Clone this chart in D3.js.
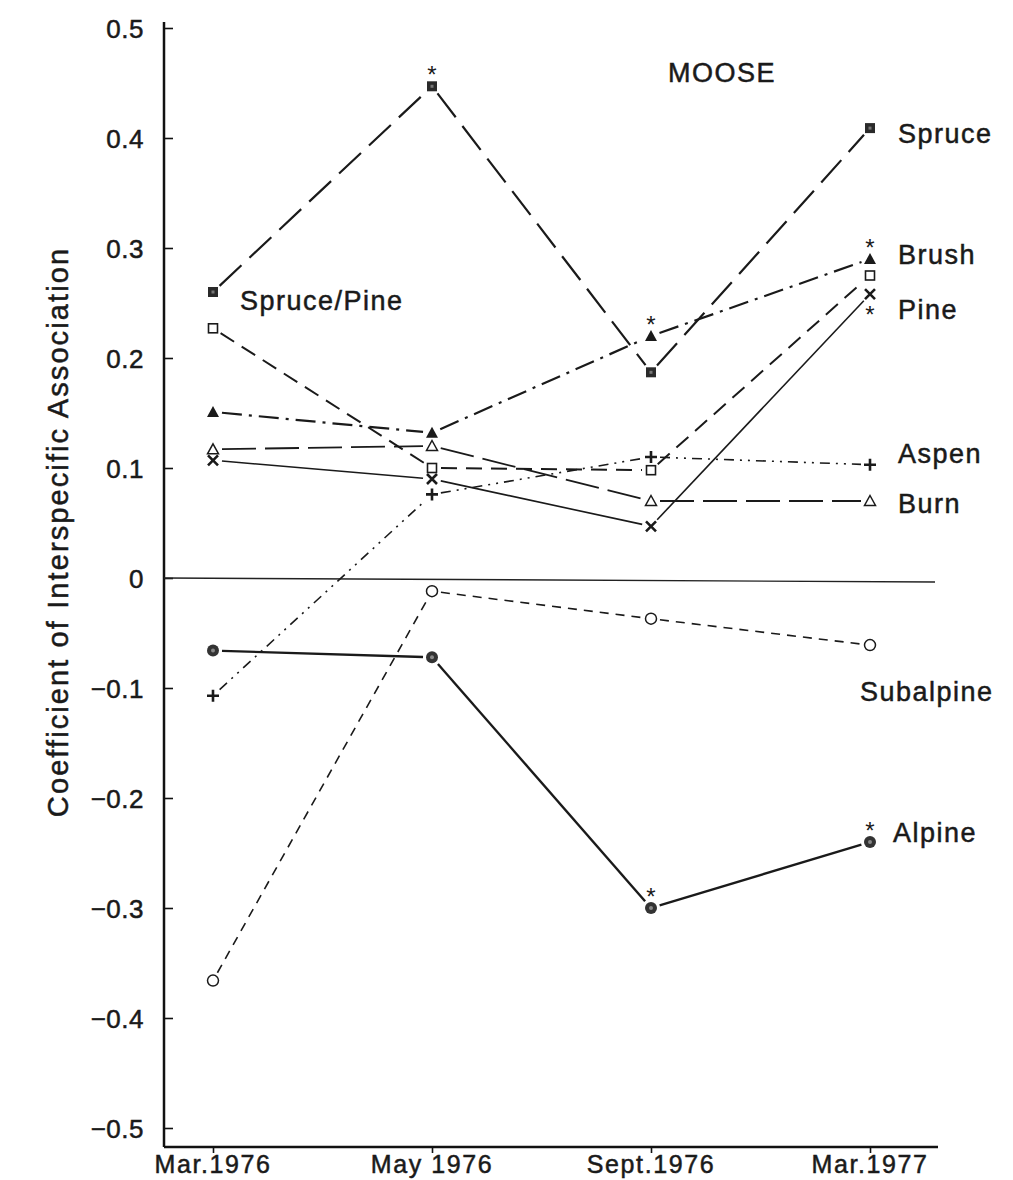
<!DOCTYPE html>
<html><head><meta charset="utf-8">
<script src="https://cdn.jsdelivr.net/npm/d3@7"></script>
<style>body{margin:0;background:#fff}svg{display:block}text{font-family:"Liberation Sans",Arial,sans-serif;fill:#1a1a1a;stroke:#1a1a1a;stroke-width:0.5px}</style>
</head><body><svg id="c" width="1013" height="1180"></svg>
<script>
const periods = ["Mar.1976","May 1976","Sept.1976","Mar.1977"];
const yTicks = [0.5,0.4,0.3,0.2,0.1,0,-0.1,-0.2,-0.3,-0.4,-0.5];
const spruce    = [0.26, 0.447, 0.187, 0.409];
const brush     = [0.151, 0.132, 0.22, 0.29];
const sprucePine= [0.227, 0.10, 0.098, 0.275];
const pine      = [0.107, 0.09, 0.047, 0.258];
const aspen     = [-0.107, 0.076, 0.11, 0.103];
const burn      = [0.117, 0.12, 0.07, 0.07];
const subalpine = [-0.366, -0.012, -0.037, -0.061];
const alpine    = [-0.066, -0.072, -0.30, -0.24];
const seriesNames = ["Spruce","Brush","Spruce/Pine","Pine","Aspen","Burn","Subalpine","Alpine"];
const sigSpruce = [false,true,false,false];
const sigBrush  = [false,false,true,true];
const sigPine   = [false,false,false,true];
const sigAlpine = [false,false,true,true];
const none = [false,false,false,false];

const series = [
  {name:"Spruce", v:spruce, sig:sigSpruce, mark:"fsq", dash:"30,11", w:2.2, sigPos:"above"},
  {name:"Brush", v:brush, sig:sigBrush, mark:"ftri", dash:"20,7,3,7", w:2.2, sigPos:"above"},
  {name:"Spruce/Pine", v:sprucePine, sig:none, mark:"osq", dash:"16,9", w:2},
  {name:"Pine", v:pine, sig:sigPine, mark:"x", dash:null, w:1.6, sigPos:"below"},
  {name:"Aspen", v:aspen, sig:none, mark:"plus", dash:"10,6,2,6,2,6", w:1.6},
  {name:"Burn", v:burn, sig:none, mark:"otri", dash:"34,9", w:1.8},
  {name:"Subalpine", v:subalpine, sig:none, mark:"ocirc", dash:"9,7", w:1.6},
  {name:"Alpine", v:alpine, sig:sigAlpine, mark:"fcirc", dash:null, w:2.4, sigPos:"above"}
];

const svg = d3.select("#c");
const x = d3.scalePoint().domain(periods).range([213, 870]);
const y = d3.scaleLinear().domain([-0.5, 0.5]).range([1128, 28]);
const axisY = 1147;

// y axis
const yAxis = d3.axisRight(y).tickValues(yTicks).tickSize(9).tickFormat("");
const ga = svg.append("g").attr("transform","translate(164,0)").call(yAxis);
ga.select(".domain").attr("d",`M0,22V${axisY}`).attr("stroke","#111").attr("stroke-width",2.5);
ga.selectAll(".tick line").attr("stroke","#111").attr("stroke-width",1.6);
svg.selectAll(".ylab").data(yTicks).enter().append("text")
  .attr("x",144).attr("y",d=>y(d)+10).attr("text-anchor","end")
  .style("font-size","26px").style("letter-spacing","0.5px")
  .text(d=> d===0 ? "0" : (d<0 ? "\u2212"+Math.abs(d).toFixed(1) : d.toFixed(1)));

// x axis
const xAxis = d3.axisBottom(x).tickSize(6).tickFormat("");
const gx = svg.append("g").attr("transform",`translate(0,${axisY})`).call(xAxis);
gx.select(".domain").attr("d","M164,0H938").attr("stroke","#111").attr("stroke-width",2.5);
gx.selectAll(".tick line").attr("stroke","#111").attr("stroke-width",1.6);
svg.selectAll(".xlab").data(periods).enter().append("text")
  .attr("x",d=>x(d)).attr("y",1173).attr("text-anchor","middle")
  .style("font-size","25px").style("letter-spacing","1.6px").text(d=>d);

svg.append("text").attr("transform","translate(68,532) rotate(-90)")
  .attr("text-anchor","middle").style("font-size","29px").style("letter-spacing","2.1px")
  .text("Coefficient of Interspecific Association");

// zero line
svg.append("line").attr("x1",164).attr("x2",935).attr("y1",y(0)).attr("y2",y(0)+4)
  .attr("stroke","#222").attr("stroke-width",1.4);

svg.append("text").attr("x",668).attr("y",82).style("font-size","27px").style("letter-spacing","1.5px").text("MOOSE");

// lines with gaps near markers
const gap = 9;
series.forEach(s=>{
  for(let i=0;i<3;i++){
    const x1=x(periods[i]), y1=y(s.v[i]), x2=x(periods[i+1]), y2=y(s.v[i+1]);
    const dx=x2-x1, dy=y2-y1, L=Math.hypot(dx,dy);
    svg.append("line")
      .attr("x1",x1+dx/L*gap).attr("y1",y1+dy/L*gap)
      .attr("x2",x2-dx/L*gap).attr("y2",y2-dy/L*gap)
      .attr("stroke","#1a1a1a").attr("stroke-width",s.w)
      .attr("stroke-dasharray",s.dash).attr("stroke-linecap","butt");
  }
});

// markers
function marker(g, type, cx, cy){
  const k="#1a1a1a";
  if(type==="fsq"){
    g.append("rect").attr("x",cx-5).attr("y",cy-5).attr("width",10).attr("height",10).attr("fill","#2a2a2a");
    g.append("rect").attr("x",cx-1.5).attr("y",cy-1.5).attr("width",3).attr("height",3).attr("fill","#777");
  } else if(type==="osq"){
    g.append("rect").attr("x",cx-4.5).attr("y",cy-4.5).attr("width",9).attr("height",9).attr("fill","#fff").attr("stroke",k).attr("stroke-width",1.6);
  } else if(type==="ftri"){
    g.append("path").attr("d",`M${cx},${cy-6}L${cx+6},${cy+5}L${cx-6},${cy+5}Z`).attr("fill",k);
  } else if(type==="otri"){
    g.append("path").attr("d",`M${cx},${cy-5.5}L${cx+5.5},${cy+4.5}L${cx-5.5},${cy+4.5}Z`).attr("fill","#fff").attr("stroke",k).attr("stroke-width",1.5);
  } else if(type==="x"){
    g.append("path").attr("d",`M${cx-5},${cy-5}L${cx+5},${cy+5}M${cx+5},${cy-5}L${cx-5},${cy+5}`).attr("stroke",k).attr("stroke-width",2.6);
  } else if(type==="plus"){
    g.append("path").attr("d",`M${cx-6},${cy}H${cx+6}M${cx},${cy-6}V${cy+6}`).attr("stroke",k).attr("stroke-width",2.6);
  } else if(type==="ocirc"){
    g.append("circle").attr("cx",cx).attr("cy",cy).attr("r",5.5).attr("fill","#fff").attr("stroke",k).attr("stroke-width",1.5);
  } else if(type==="fcirc"){
    g.append("circle").attr("cx",cx).attr("cy",cy).attr("r",6).attr("fill","#333");
    g.append("circle").attr("cx",cx).attr("cy",cy).attr("r",2).attr("fill","#888");
  }
}
const gm = svg.append("g");
series.forEach(s=>{
  s.v.forEach((v,i)=>{
    marker(gm, s.mark, x(periods[i]), y(v));
    if(s.sig[i]){
      const off = s.sigPos==="below" ? 29 : -3;
      gm.append("text").attr("x",x(periods[i])).attr("y",y(v)+off)
        .attr("text-anchor","middle").style("font-size","24px")
        .style("stroke-width","0").text("*");
    }
  });
});

// labels
const labelPos = {
  "Spruce":[898,143], "Brush":[898,264], "Spruce/Pine":[240,310], "Pine":[898,319],
  "Aspen":[898,463], "Burn":[898,513], "Subalpine":[860,701], "Alpine":[893,842]
};
seriesNames.forEach(n=>{
  svg.append("text").attr("x",labelPos[n][0]).attr("y",labelPos[n][1])
    .style("font-size","27px").style("letter-spacing","1.5px").text(n);
});
</script></body></html>
